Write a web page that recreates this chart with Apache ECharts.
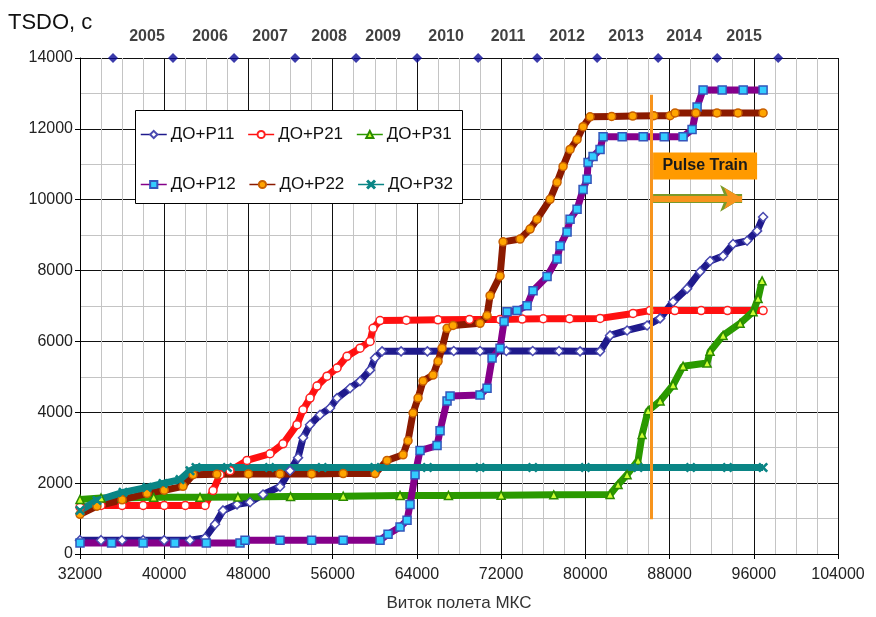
<!DOCTYPE html>
<html><head><meta charset="utf-8">
<script src="https://cdn.jsdelivr.net/npm/echarts@6/dist/echarts.min.js"></script>
<style>html,body{margin:0;padding:0;background:#fff;overflow:hidden}#c{width:876px;height:617px}</style>
</head><body><div id="c"></div>
<script>
// ---- data (orbit number, TSDO seconds) ----
const P11 = [[32000,390],[34000,390],[36000,390],[38000,390],[40000,390],[42450,390],[43875,450],[44825,840],[45585,1230],[46915,1400],[48150,1460],[49385,1680],[51000,1900],[51950,2350],[52710,2720],[53185,3280],[53850,3650],[54800,3930],[55750,4120],[56415,4400],[57650,4680],[58600,4880],[59550,5190],[60025,5530],[60690,5720],[62500,5720],[65000,5720],[67500,5730],[70000,5730],[72500,5730],[75000,5730],[77500,5730],[79500,5720],[81400,5720],[82350,6170],[83965,6310],[85865,6450],[87100,6650],[88335,7120],[89665,7490],[90900,7970],[91850,8270],[93085,8410],[94035,8750],[95365,8840],[96315,9120],[96885,9510]];
const P21 = [[32000,1320],[34000,1370],[36000,1370],[38000,1370],[40000,1370],[42000,1370],[43875,1370],[44635,1790],[45300,2240],[46250,2350],[47865,2640],[50050,2830],[51285,3110],[52615,3650],[53185,4070],[53850,4400],[54515,4740],[55465,5020],[56415,5250],[57365,5580],[58600,5810],[59550,6000],[59835,6370],[60500,6590],[63000,6600],[66000,6610],[69000,6620],[71900,6620],[74000,6630],[76000,6640],[78500,6640],[81400,6650],[84535,6790],[86150,6870],[88500,6870],[91000,6870],[93500,6870],[96885,6870]];
const P31 = [[32000,1540],[34000,1580],[36000,1580],[39000,1600],[43400,1600],[47000,1610],[52000,1620],[57000,1630],[62400,1650],[67000,1650],[72000,1660],[77000,1670],[82350,1680],[83110,1960],[83965,2240],[85010,2640],[85390,3370],[85960,4040],[87100,4320],[88335,4770],[89285,5300],[91565,5390],[91850,5720],[93085,6170],[94700,6510],[95935,6840],[96410,7210],[96790,7710]];
const P12 = [[32000,310],[35000,310],[38000,310],[41000,310],[44000,310],[47200,310],[47675,390],[51000,390],[54000,390],[57000,390],[60500,390],[61260,560],[62400,760],[63065,950],[63350,1400],[63825,2240],[64300,2920],[65915,3060],[66200,3480],[66865,4320],[67150,4460],[70000,4490],[70665,4680],[71140,5530],[71900,5810],[72280,6560],[72565,6840],[73515,6870],[74465,7010],[75035,7430],[76365,7830],[77315,8330],[77600,8700],[78265,9090],[78550,9450],[79215,9730],[79785,10290],[80165,10580],[80260,11050],[80735,11220],[81400,11420],[81685,11780],[83500,11780],[85500,11780],[87500,11780],[89285,11780],[90140,11980],[90615,12620],[91185,13100],[93000,13100],[95000,13100],[96885,13100]];
const P22 = [[32000,1120],[33615,1350],[36000,1530],[38365,1710],[40000,1800],[41785,1910],[42735,2240],[45000,2250],[48000,2260],[51000,2260],[54000,2260],[57000,2270],[60025,2270],[61165,2640],[62685,2800],[63160,3200],[63635,3980],[64110,4400],[64585,4880],[65535,5050],[66010,5440],[66390,5810],[66865,6370],[67435,6450],[70000,6510],[70665,6730],[70950,7290],[71900,7850],[72185,8810],[73800,8890],[74750,9170],[75415,9450],[76650,10010],[77315,10490],[77885,10940],[78550,11420],[79215,11700],[79785,12060],[80450,12340],[82500,12350],[84500,12360],[86500,12370],[88050,12370],[88525,12450],[90500,12450],[92500,12450],[94500,12450],[96885,12450]];
const P32 = [[32000,1230],[33615,1510],[36085,1740],[38365,1880],[39885,1990],[41500,2100],[42450,2350],[43020,2440],[46000,2440],[50000,2440],[55000,2440],[60000,2440],[65000,2440],[70000,2440],[75000,2440],[80000,2440],[85000,2440],[90000,2440],[93500,2440],[96885,2440]];
const yearMarks = [35135,40836,46632,52428,58223,64019,69815,75420,81121,86917,92523,98318];
const yearLabels = ['2005','2006','2007','2008','2009','2010','2011','2012','2013','2014','2015'];
const yearLabelX = [38365,44350,50050,55655,60785,66770,72660,78265,83870,89380,95080];
const seriesNames = ['ДО+Р11','ДО+Р21','ДО+Р31','ДО+Р12','ДО+Р22','ДО+Р32'];
const pulseX = 86245, pulseY = [980, 12960];
const pulseBox = [[86435,11330],[96315,10570]];
const pulseArrow = [[86435,10040],[94890,10040]];

const FONT = 'Liberation Sans, Arial, sans-serif';
const crossPath = 'path://M1,0 L5,4 L9,0 L10,1 L6,5 L10,9 L9,10 L5,6 L1,10 L0,9 L4,5 L0,1 Z';

function mk(name, data, line, fill, border, symbol, size) {
  return {
    name, type: 'line', data, symbol, symbolSize: size, showSymbol: true,
    lineStyle: { color: line, width: 7 },
    itemStyle: { color: fill, borderColor: border, borderWidth: 1.5 },
    emphasis: { disabled: true }, animation: false, z: 3
  };
}

const chart = echarts.init(document.getElementById('c'), null, { renderer: 'canvas', width: 876, height: 617 });
const legendCommon = {
  orient: 'horizontal', left: 140, padding: 0, itemWidth: 26, itemHeight: 9, itemGap: 13,
  textStyle: { fontFamily: FONT, fontSize: 17, color: '#111', padding: [0, 0, 0, -1] },
  lineStyle: { width: 1.5 }, z: 21, selectedMode: false
};
chart.setOption({
  animation: false,
  grid: { left: 80, right: 38, top: 58, bottom: 60, containLabel: false },
  xAxis: {
    type: 'value', min: 32000, max: 104000, interval: 8000,
    name: 'Виток полета МКС', nameLocation: 'middle', nameGap: 41,
    nameTextStyle: { fontFamily: FONT, fontSize: 17, color: '#333' },
    axisLine: { show: true, onZero: false, lineStyle: { color: '#000', width: 1 } },
    axisTick: { show: true, length: 5, lineStyle: { color: '#000' } },
    axisLabel: { fontFamily: FONT, fontSize: 16, color: '#222', margin: 13, formatter: v => String(v) },
    splitLine: { show: true, lineStyle: { color: '#111', width: 1 } },
    minorTick: { show: false, splitNumber: 4 },
    minorSplitLine: { show: true, lineStyle: { color: '#c4c4c4', width: 1 } }
  },
  yAxis: {
    type: 'value', min: 0, max: 14000, interval: 2000,
    axisLine: { show: true, lineStyle: { color: '#000', width: 1 } },
    axisTick: { show: true, length: 5, lineStyle: { color: '#000' } },
    axisLabel: { fontFamily: FONT, fontSize: 16, color: '#222', margin: 7, formatter: v => String(v) },
    splitLine: { show: true, lineStyle: { color: '#111', width: 1 } },
    minorTick: { show: false, splitNumber: 2 },
    minorSplitLine: { show: true, lineStyle: { color: '#c4c4c4', width: 1 } }
  },
  legend: [
    Object.assign({ top: 126, data: seriesNames.slice(0, 3) }, legendCommon),
    Object.assign({ top: 176, data: seriesNames.slice(3, 6) }, legendCommon)
  ],
  graphic: [
    { type: 'rect', left: 135, top: 110, z: 20, shape: { width: 327, height: 93 },
      style: { fill: '#fff', stroke: '#000', lineWidth: 1 } },
    { type: 'text', left: 8, top: 12, z: 20,
      style: { text: 'TSDO, с', font: '22px ' + FONT, fill: '#111' } }
  ],
  series: [
    mk(seriesNames[0], P11, '#1f1a8c', '#ffffff', '#4a4ab0', 'diamond', 9),
    mk(seriesNames[1], P21, '#ff1010', '#ffffff', '#ff2020', 'circle', 8),
    mk(seriesNames[2], P31, '#2a9a00', '#ccff33', '#2a8a00', 'triangle', 8),
    mk(seriesNames[3], P12, '#85008a', '#33ccff', '#3355bb', 'rect', 8),
    mk(seriesNames[4], P22, '#8b1a00', '#ffa500', '#c86000', 'circle', 8),
    mk(seriesNames[5], P32, '#0a8585', '#8fdcdc', '#0a8585', crossPath, 8),
    {
      name: 'years', type: 'scatter', data: yearMarks.map(x => [x, 14000]),
      symbol: 'diamond', symbolSize: 10, itemStyle: { color: '#0a0a96' },
      clip: false, z: 6, silent: true
    },
    {
      name: 'yearLabels', type: 'scatter', symbolSize: 0, clip: false, silent: true,
      data: yearLabelX.map((x, i) => ({ value: [x, 14000], name: yearLabels[i] })),
      label: { show: true, position: 'top', distance: 13, formatter: p => p.name,
        fontFamily: FONT, fontWeight: 'bold', fontSize: 16, color: '#111' }
    },
    {
      name: 'pulse', type: 'line', data: [], silent: true, z: 8,
      markLine: {
        silent: true, symbol: ['none', 'none'], animation: false, label: { show: false },
        data: [
          [{ coord: [pulseX, pulseY[0]], lineStyle: { color: '#f7941d', width: 3, type: 'solid' } },
           { coord: [pulseX, pulseY[1]] }],
          [{ coord: pulseArrow[0], symbol: 'none', lineStyle: { color: '#7a9a2a', width: 9, type: 'solid' } },
           { coord: pulseArrow[1], symbol: 'arrow', symbolSize: [20, 22] }],
          [{ coord: pulseArrow[0], symbol: 'none', lineStyle: { color: '#f7941d', width: 6, type: 'solid' } },
           { coord: pulseArrow[1], symbol: 'arrow', symbolSize: [16, 18] }]
        ]
      },
      markArea: {
        silent: true,
        itemStyle: { color: '#ff9a00', opacity: 1 },
        label: { show: true, position: 'inside', formatter: 'Pulse Train',
          fontFamily: FONT, fontWeight: 'bold', fontSize: 16, color: '#1a1a1a' },
        data: [[{ coord: pulseBox[0] }, { coord: pulseBox[1] }]]
      }
    }
  ]
});
</script></body></html>
